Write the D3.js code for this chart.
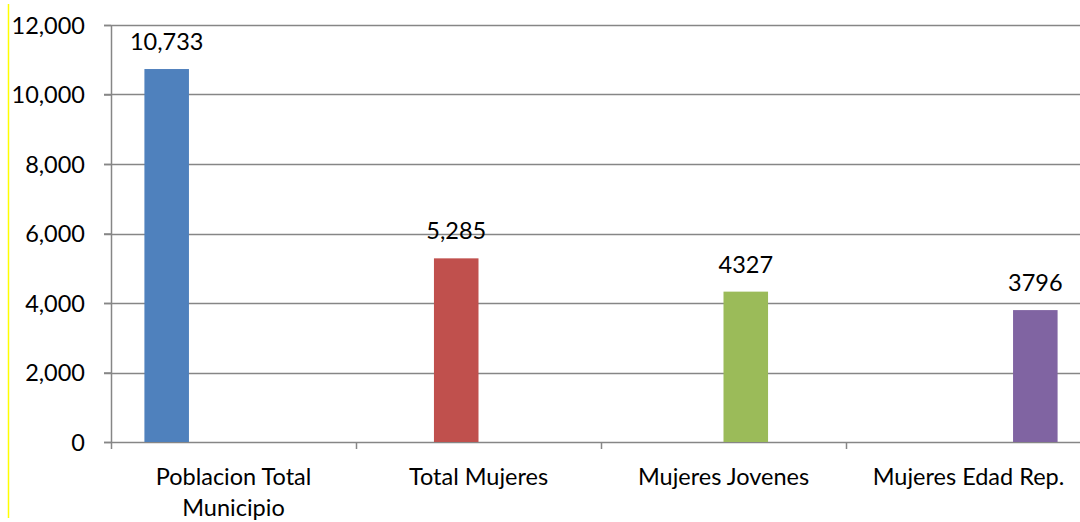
<!DOCTYPE html>
<html>
<head>
<meta charset="utf-8">
<script src="https://cdn.jsdelivr.net/npm/d3@7"></script>
<style>
  html, body { margin: 0; padding: 0; background: #fff; }
  svg { display: block; }
  text { font-family: Lato, "Open Sans", sans-serif; fill: #000; }
</style>
</head>
<body>
<svg id="chart" width="1080" height="522"></svg>
<script>
// Population figures per group
const categories = ["Poblacion Total Municipio", "Total Mujeres", "Mujeres Jovenes", "Mujeres Edad Rep."];
const values = [10733, 5285, 4327, 3796];
const valueLabels = ["10,733", "5,285", "4327", "3796"];
const colors = ["#4F81BD", "#C0504D", "#9BBB59", "#8064A2"];
const yTicks = [0, 2000, 4000, 6000, 8000, 10000, 12000];

const svg = d3.select("#chart");
const W = 1080, H = 522;
const m = { left: 111, top: 25, right: -11, bottom: 80 };
const plotW = W - m.left - m.right;
const plotH = H - m.top - m.bottom;
const fontSize = "23.5px";

// Left yellow rule
svg.append("line")
  .attr("x1", 8.5).attr("x2", 8.5).attr("y1", 4).attr("y2", 518)
  .attr("stroke", "#FFFF00").attr("stroke-width", 1.5);

const x = d3.scaleBand().domain(categories).range([0, plotW]).paddingInner(0).paddingOuter(0);
// each series is its own clustered slot within the band
const series = categories.map((c, i) => i);
const xs = d3.scaleBand().domain(series).range([0, x.bandwidth()]).paddingOuter(0.75).paddingInner(0);
const y = d3.scaleLinear().domain([0, 12000]).range([plotH, 0]);

const g = svg.append("g").attr("transform", `translate(${m.left},${m.top})`);

// gridlines
g.append("g").selectAll("line").data(yTicks.filter(d => d > 0)).join("line")
  .attr("x1", -7).attr("x2", plotW)
  .attr("y1", d => Math.round(y(d)) + 0.5).attr("y2", d => Math.round(y(d)) + 0.5)
  .attr("stroke", "#868686").attr("stroke-width", 1.5);

// y axis
const yAxis = g.append("g").call(d3.axisLeft(y).tickValues(yTicks).tickSize(7).tickPadding(19).tickFormat(d3.format(",")));
yAxis.select(".domain").remove();
yAxis.selectAll(".tick line").attr("stroke", "#868686").attr("stroke-width", 1.5);
yAxis.selectAll(".tick text").style("font-size", fontSize).attr("dy", "0.36em");
g.append("line").attr("x1", 0.5).attr("x2", 0.5).attr("y1", 0).attr("y2", plotH)
  .attr("stroke", "#868686").attr("stroke-width", 1.5);

// x axis
const xAxisG = g.append("g").attr("transform", `translate(0,${plotH})`);
xAxisG.append("line").attr("x1", -7).attr("x2", plotW).attr("y1", 0.5).attr("y2", 0.5)
  .attr("stroke", "#868686").attr("stroke-width", 1.5);
const bounds = categories.map((c, i) => x(c)).concat([plotW]);
xAxisG.selectAll("line.tk").data(bounds).join("line").attr("class", "tk")
  .attr("x1", d => d + 0.5).attr("x2", d => d + 0.5).attr("y1", 0).attr("y2", 7)
  .attr("stroke", "#868686").attr("stroke-width", 1.5);

// category labels, wrapped to the band width
const catText = xAxisG.selectAll("text.cat").data(categories).join("text").attr("class", "cat")
  .attr("text-anchor", "middle").style("font-size", fontSize)
  .attr("transform", d => `translate(${x(d) + x.bandwidth() / 2},43)`);
catText.each(function (d) {
  const t = d3.select(this);
  const words = d.split(" ");
  let line = [];
  let ts = t.append("tspan").attr("x", 0).attr("dy", 0);
  words.forEach(w => {
    line.push(w);
    ts.text(line.join(" "));
    if (ts.node().getComputedTextLength() > 235 && line.length > 1) {
      line.pop();
      ts.text(line.join(" "));
      line = [w];
      ts = t.append("tspan").attr("x", 0).attr("dy", 31).text(w);
    }
  });
});

// bars
g.append("g").selectAll("rect").data(values).join("rect")
  .attr("x", (d, i) => x(categories[i]) + xs(i))
  .attr("width", xs.bandwidth())
  .attr("y", d => y(d))
  .attr("height", d => plotH - y(d))
  .attr("fill", (d, i) => colors[i]);

// value labels
g.append("g").selectAll("text").data(values).join("text")
  .attr("x", (d, i) => x(categories[i]) + xs(i) + xs.bandwidth() / 2)
  .attr("y", d => y(d) - 19)
  .attr("text-anchor", "middle").style("font-size", fontSize)
  .text((d, i) => valueLabels[i]);
</script>
</body>
</html>
